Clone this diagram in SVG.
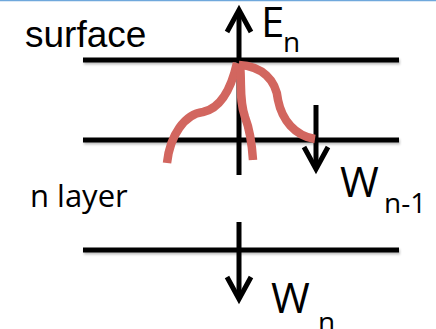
<svg xmlns="http://www.w3.org/2000/svg" width="436" height="329" viewBox="0 0 436 329">
  <defs>
    <style>
      .layer { stroke: #000; stroke-width: 5; fill: none; filter: url(#sh); }
      .arrow { stroke: #000; stroke-width: 5; fill: none; marker-end: url(#chev); }
      .red { stroke: #d2665f; stroke-width: 8.5; fill: none; stroke-linecap: butt; }
      .sans { font-family: "Liberation Sans", Arial, sans-serif; fill: #000; }
      .cal { font-family: "Open Sans", "Noto Sans", sans-serif; fill: #000; }
    </style>
    <filter id="sh" filterUnits="userSpaceOnUse" x="0" y="0" width="436" height="329">
      <feDropShadow dx="1" dy="2" stdDeviation="1.2" flood-color="#000" flood-opacity="0.25"/>
    </filter>
    <marker id="chev" markerUnits="userSpaceOnUse" orient="auto" refX="0" refY="0" markerWidth="40" markerHeight="40" viewBox="-30 -20 40 40" overflow="visible">
      <path d="M-22,-12 L0,0 L-22,12" fill="none" stroke="#000" stroke-width="5" stroke-linejoin="miter"/>
    </marker>
  </defs>
  <rect x="0" y="0" width="436" height="329" fill="#fff"/>
  <line x1="0" y1="0.5" x2="436" y2="0.5" stroke="#6fa8dc" stroke-width="1.5"/>

  <g id="layers">
    <line class="layer" x1="83" y1="60" x2="399" y2="60"/>
    <line class="layer" x1="83" y1="140" x2="399" y2="140"/>
    <line class="layer" x1="83" y1="250" x2="399" y2="250"/>
  </g>

  <g id="connectors">
    <line class="arrow" x1="239" y1="175" x2="239" y2="10"/>
    <line class="arrow" x1="316" y1="105" x2="316" y2="169"/>
    <line class="arrow" x1="239" y1="222" x2="239" y2="299"/>
  </g>

  <g id="paths">
    <path class="red" d="M167,163 C170,135 185,114 203,112 C222,108 232,85 237,63"/>
    <path class="red" d="M240,64 C242,85 239,100 245,117 C250,130 252,145 253,160"/>
    <path class="red" d="M239,65 C262,66 276,80 278,100 C282,120 295,136 315,139"/>
  </g>

  <g id="surface">
    <text class="sans" x="25" y="47" font-size="37">surface</text>
  </g>
  <g id="En">
    <text class="cal" x="261" y="37" font-size="42">E</text>
    <text class="cal" x="283" y="52" font-size="28">n</text>
  </g>
  <g id="nlayer">
    <text class="cal" x="30" y="207" font-size="31">n layer</text>
  </g>
  <g id="Wn1">
    <text class="cal" x="340" y="197" font-size="42">W</text>
    <text class="cal" x="384" y="213" font-size="28">n-1</text>
  </g>
  <g id="Wn">
    <text class="cal" x="271" y="313" font-size="42">W</text>
    <text class="cal" x="318" y="332" font-size="28">n</text>
  </g>
</svg>
